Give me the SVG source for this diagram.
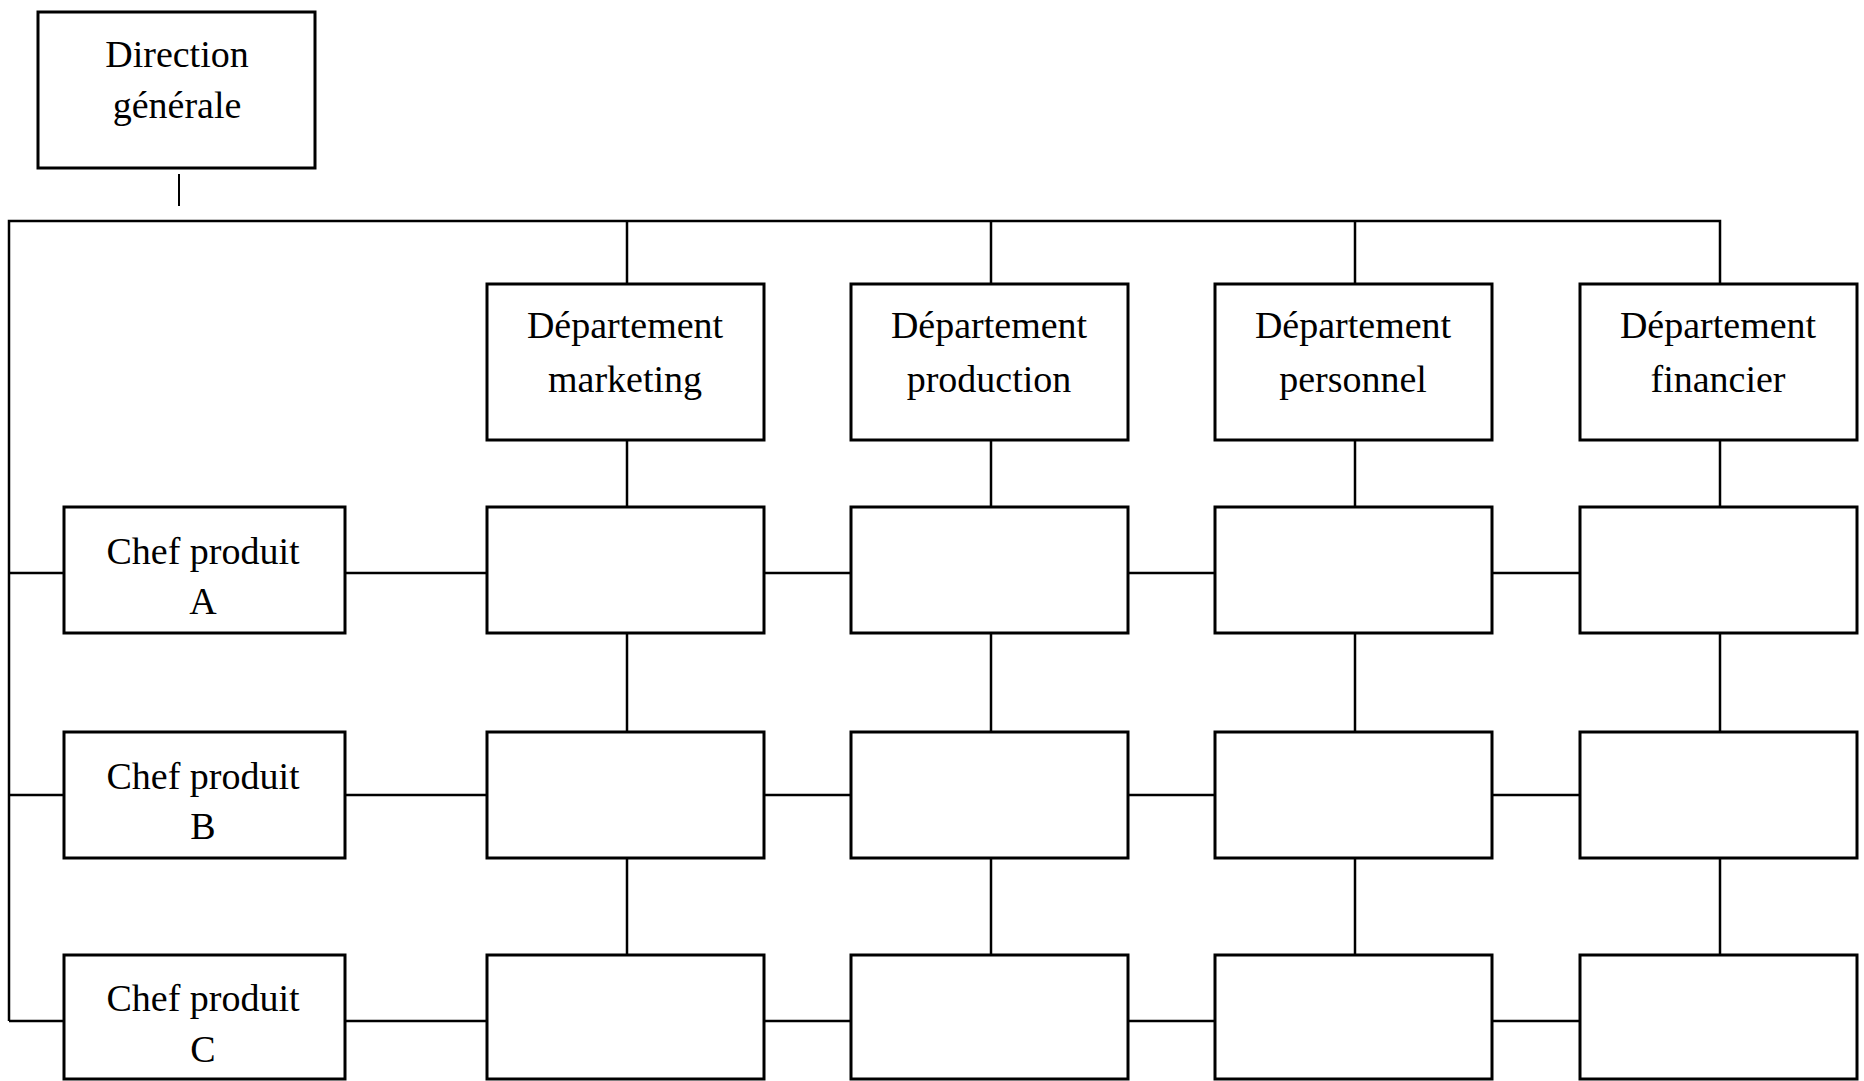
<svg xmlns="http://www.w3.org/2000/svg" width="1864" height="1081" viewBox="0 0 1864 1081">
<style>
.box{fill:#fff;stroke:#000;stroke-width:3}
.ln{stroke:#000;stroke-width:2.5;fill:none}
text{font-family:"Liberation Serif","Times New Roman",serif;font-size:38px;fill:#000;text-anchor:middle}
</style>
<rect width="1864" height="1081" fill="#fff"/>
<g id="connectors">
<line class="ln" x1="179" y1="174" x2="179" y2="206" style="stroke-width:2"/>
<polyline class="ln" points="9,1021 9,221 1720,221 1720,284"/>
<line class="ln" x1="627" y1="221" x2="627" y2="284"/>
<line class="ln" x1="991" y1="221" x2="991" y2="284"/>
<line class="ln" x1="1355" y1="221" x2="1355" y2="284"/>
<line class="ln" x1="627" y1="440" x2="627" y2="507"/>
<line class="ln" x1="991" y1="440" x2="991" y2="507"/>
<line class="ln" x1="1355" y1="440" x2="1355" y2="507"/>
<line class="ln" x1="1720" y1="440" x2="1720" y2="507"/>
<line class="ln" x1="627" y1="633" x2="627" y2="732"/>
<line class="ln" x1="991" y1="633" x2="991" y2="732"/>
<line class="ln" x1="1355" y1="633" x2="1355" y2="732"/>
<line class="ln" x1="1720" y1="633" x2="1720" y2="732"/>
<line class="ln" x1="627" y1="858" x2="627" y2="955"/>
<line class="ln" x1="991" y1="858" x2="991" y2="955"/>
<line class="ln" x1="1355" y1="858" x2="1355" y2="955"/>
<line class="ln" x1="1720" y1="858" x2="1720" y2="955"/>
<line class="ln" x1="9" y1="573" x2="64" y2="573"/>
<line class="ln" x1="345" y1="573" x2="487" y2="573"/>
<line class="ln" x1="764" y1="573" x2="851" y2="573"/>
<line class="ln" x1="1128" y1="573" x2="1215" y2="573"/>
<line class="ln" x1="1492" y1="573" x2="1580" y2="573"/>
<line class="ln" x1="9" y1="795" x2="64" y2="795"/>
<line class="ln" x1="345" y1="795" x2="487" y2="795"/>
<line class="ln" x1="764" y1="795" x2="851" y2="795"/>
<line class="ln" x1="1128" y1="795" x2="1215" y2="795"/>
<line class="ln" x1="1492" y1="795" x2="1580" y2="795"/>
<line class="ln" x1="9" y1="1021" x2="64" y2="1021"/>
<line class="ln" x1="345" y1="1021" x2="487" y2="1021"/>
<line class="ln" x1="764" y1="1021" x2="851" y2="1021"/>
<line class="ln" x1="1128" y1="1021" x2="1215" y2="1021"/>
<line class="ln" x1="1492" y1="1021" x2="1580" y2="1021"/>
</g>
<g id="direction"><rect class="box" x="38" y="12" width="277" height="156"/><text x="177" y="67">Direction</text><text x="177" y="118">générale</text></g>
<g id="dept-marketing"><rect class="box" x="487" y="284" width="277" height="156"/><text x="625" y="338">Département</text><text x="625" y="392">marketing</text></g>
<g id="dept-production"><rect class="box" x="851" y="284" width="277" height="156"/><text x="989" y="338">Département</text><text x="989" y="392">production</text></g>
<g id="dept-personnel"><rect class="box" x="1215" y="284" width="277" height="156"/><text x="1353" y="338">Département</text><text x="1353" y="392">personnel</text></g>
<g id="dept-financier"><rect class="box" x="1580" y="284" width="277" height="156"/><text x="1718" y="338">Département</text><text x="1718" y="392">financier</text></g>
<g id="chef-a"><rect class="box" x="64" y="507" width="281" height="126"/><text x="203" y="564">Chef produit</text><text x="203" y="614">A</text></g>
<g id="chef-b"><rect class="box" x="64" y="732" width="281" height="126"/><text x="203" y="789">Chef produit</text><text x="203" y="839">B</text></g>
<g id="chef-c"><rect class="box" x="64" y="955" width="281" height="124"/><text x="203" y="1011">Chef produit</text><text x="203" y="1062">C</text></g>
<g id="cell-a1"><rect class="box" x="487" y="507" width="277" height="126"/></g>
<g id="cell-a2"><rect class="box" x="851" y="507" width="277" height="126"/></g>
<g id="cell-a3"><rect class="box" x="1215" y="507" width="277" height="126"/></g>
<g id="cell-a4"><rect class="box" x="1580" y="507" width="277" height="126"/></g>
<g id="cell-b1"><rect class="box" x="487" y="732" width="277" height="126"/></g>
<g id="cell-b2"><rect class="box" x="851" y="732" width="277" height="126"/></g>
<g id="cell-b3"><rect class="box" x="1215" y="732" width="277" height="126"/></g>
<g id="cell-b4"><rect class="box" x="1580" y="732" width="277" height="126"/></g>
<g id="cell-c1"><rect class="box" x="487" y="955" width="277" height="124"/></g>
<g id="cell-c2"><rect class="box" x="851" y="955" width="277" height="124"/></g>
<g id="cell-c3"><rect class="box" x="1215" y="955" width="277" height="124"/></g>
<g id="cell-c4"><rect class="box" x="1580" y="955" width="277" height="124"/></g>
</svg>
